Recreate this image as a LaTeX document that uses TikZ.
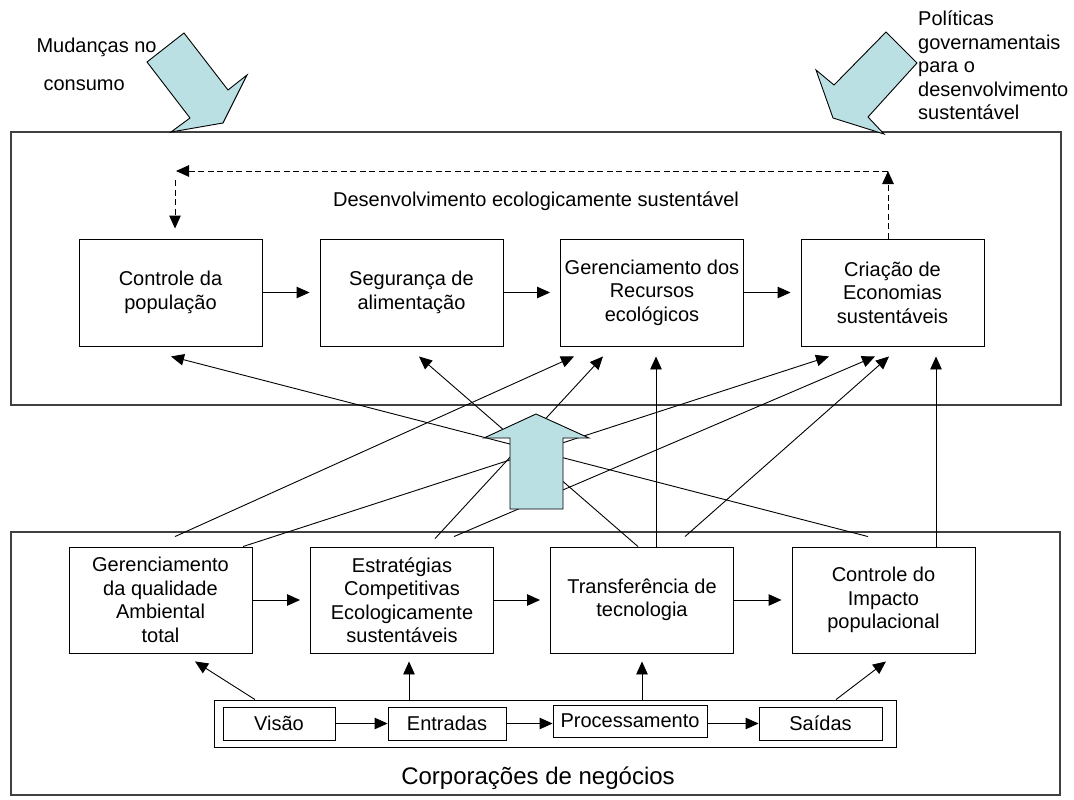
\documentclass[tikz,border=0pt]{standalone}
\usepackage{fontspec}
\setmainfont{Liberation Sans}
\usetikzlibrary{arrows.meta}
\definecolor{arrowfill}{RGB}{187,224,227}
\begin{document}
\begin{tikzpicture}[x=1pt,y=-1pt,
  font=\fontsize{20}{23.5}\selectfont,
  frame/.style={draw=black!75, line width=1.2pt},
  box/.style={draw, line width=0.9pt, fill=white, minimum width=183pt,
    minimum height=107pt, align=center, inner sep=0pt},
  smallbox/.style={draw, line width=0.9pt, fill=white, minimum height=33pt, inner sep=0pt},
  link/.style={line width=0.9pt, -{Triangle[length=13pt,width=11.5pt]}},
  dlink/.style={link, dash pattern=on 6pt off 3.5pt},
  bigarrow/.style={draw, line width=0.9pt, fill=arrowfill}]

\useasboundingbox (0,0) rectangle (1074,800);

% outer frames
\draw[frame] (11,132) rectangle (1061,405);
\draw[frame] (11,532) rectangle (1060,795);

% inflow arrows from outside
\draw[bigarrow] (147,62) -- (184,33) -- (228,90) -- (247,75) -- (223,123)
  -- (171,132) -- (190,118) -- cycle;
\draw[bigarrow] (886,32) -- (917,63) -- (868,117) -- (884,134) -- (833,118)
  -- (816,70) -- (834,85) -- cycle;

\node[anchor=base west] (mud1) at (33,53) {Mudanças no};
\node[anchor=base west] (mud2) at (40,90) {consumo};
\node[anchor=north west, align=left, inner sep=0pt] (pol) at (918,11)
  {Políticas\\governamentais\\para o\\desenvolvimento\\sustentável};

% sustainable development level
\node (dev) at (536,201) {Desenvolvimento ecologicamente sustentável};
\node[box] (CP) at (170.5,292.5) {Controle da\\população};
\node[box] (SA) at (411.5,292.5) {Segurança de\\alimentação};
\node[box] (GR) at (652,292.5) {Gerenciamento dos\\Recursos\\ecológicos};
\node[box] (CE) at (892.5,292.5) {Criação de\\Economias\\sustentáveis};

\draw[link] (CP.east) -- ([xshift=-10pt]SA.west);
\draw[link] (SA.east) -- ([xshift=-10pt]GR.west);
\draw[link] (GR.east) -- ([xshift=-10pt]CE.west);

\coordinate (dTR) at (888,171);
\coordinate (dTL) at (176,171);
\coordinate (dL) at (175,180);
\draw[dlink] ([xshift=-4.5pt]CE.north) -- (dTR);
\draw[dlink] (dTR) -- (dTL);
\draw[dlink] (dL) -- ([xshift=4.5pt,yshift=10pt]CP.north);

% business corporations level
\node[box, minimum height=106pt] (G) at (160.5,600) {Gerenciamento\\da qualidade\\Ambiental\\total};
\node[box, minimum height=106pt] (E) at (402,600) {Estratégias\\Competitivas\\Ecologicamente\\sustentáveis};
\node[box, minimum height=106pt] (T) at (642,600) {Transferência de\\tecnologia};
\node[box, minimum height=106pt] (CI) at (883.5,600) {Controle do\\Impacto\\populacional};

\draw[link] (G.east) -- ([xshift=-10pt]E.west);
\draw[link] (E.east) -- ([xshift=-10pt]T.west);
\draw[link] (T.east) -- ([xshift=-10pt]CI.west);

\node[draw, line width=0.9pt, minimum width=682pt, minimum height=47pt, inner sep=0pt] (row) at (555,723.5) {};
\node[smallbox, minimum width=112pt] (vis) at (279,723.5) {Visão};
\node[smallbox, minimum width=118pt] (ent) at (447,723.5) {Entradas};
\node[smallbox, minimum width=154pt, minimum height=32pt] (pro) at (630,721) {Processamento};
\node[smallbox, minimum width=123pt] (sai) at (820.5,723.5) {Saídas};

\draw[link] (vis.east) -- (ent.west);
\draw[link] (ent.east) -- (pro.west |- ent.east);
\draw[link] (pro.east |- sai.west) -- (sai.west);

\draw[link] ([xshift=-300pt]row.north) -- ([xshift=34.5pt,yshift=-8pt]G.south);
\draw[link] ([xshift=-146pt]row.north) -- ([xshift=7pt,yshift=-8pt]E.south);
\draw[link] ([xshift=87pt]row.north) -- ([yshift=-8pt]T.south);
\draw[link] ([xshift=281pt]row.north) -- ([xshift=2.5pt,yshift=-8pt]CI.south);

\node (corp) at (538,778) {\fontsize{24}{28}\selectfont Corporações de negócios};

% links between the two levels
\draw[link] ([xshift=-15.5pt,yshift=10pt]CI.north) -- ([xshift=0.5pt,yshift=-10pt]CP.south);
\draw[link] ([xshift=-4pt]T.north) -- ([xshift=7.5pt,yshift=-10pt]SA.south);
\draw[link] ([xshift=14.5pt,yshift=10pt]G.north) -- ([xshift=-78pt,yshift=-10pt]GR.south);
\draw[link] ([xshift=33pt,yshift=8pt]E.north) -- ([xshift=-49pt,yshift=-10pt]GR.south);
\draw[link] ([xshift=14pt]T.north) -- ([xshift=4pt,yshift=-10pt]GR.south);
\draw[link] ([xshift=82.5pt]G.north) -- ([xshift=-63.5pt,yshift=-10pt]CE.south);
\draw[link] ([xshift=52pt,yshift=10pt]E.north) -- ([xshift=-17.5pt,yshift=-10pt]CE.south);
\draw[link] ([xshift=43pt,yshift=10pt]T.north) -- ([xshift=-3.5pt,yshift=-10pt]CE.south);
\draw[link] ([xshift=52.5pt]CI.north) -- ([xshift=43.5pt,yshift=-10pt]CE.south);

% central upward arrow
\draw[bigarrow] (536,414) -- (589,438) -- (563,438) -- (563,509) -- (510,509)
  -- (510,438) -- (484,438) -- cycle;
\end{tikzpicture}
\end{document}
